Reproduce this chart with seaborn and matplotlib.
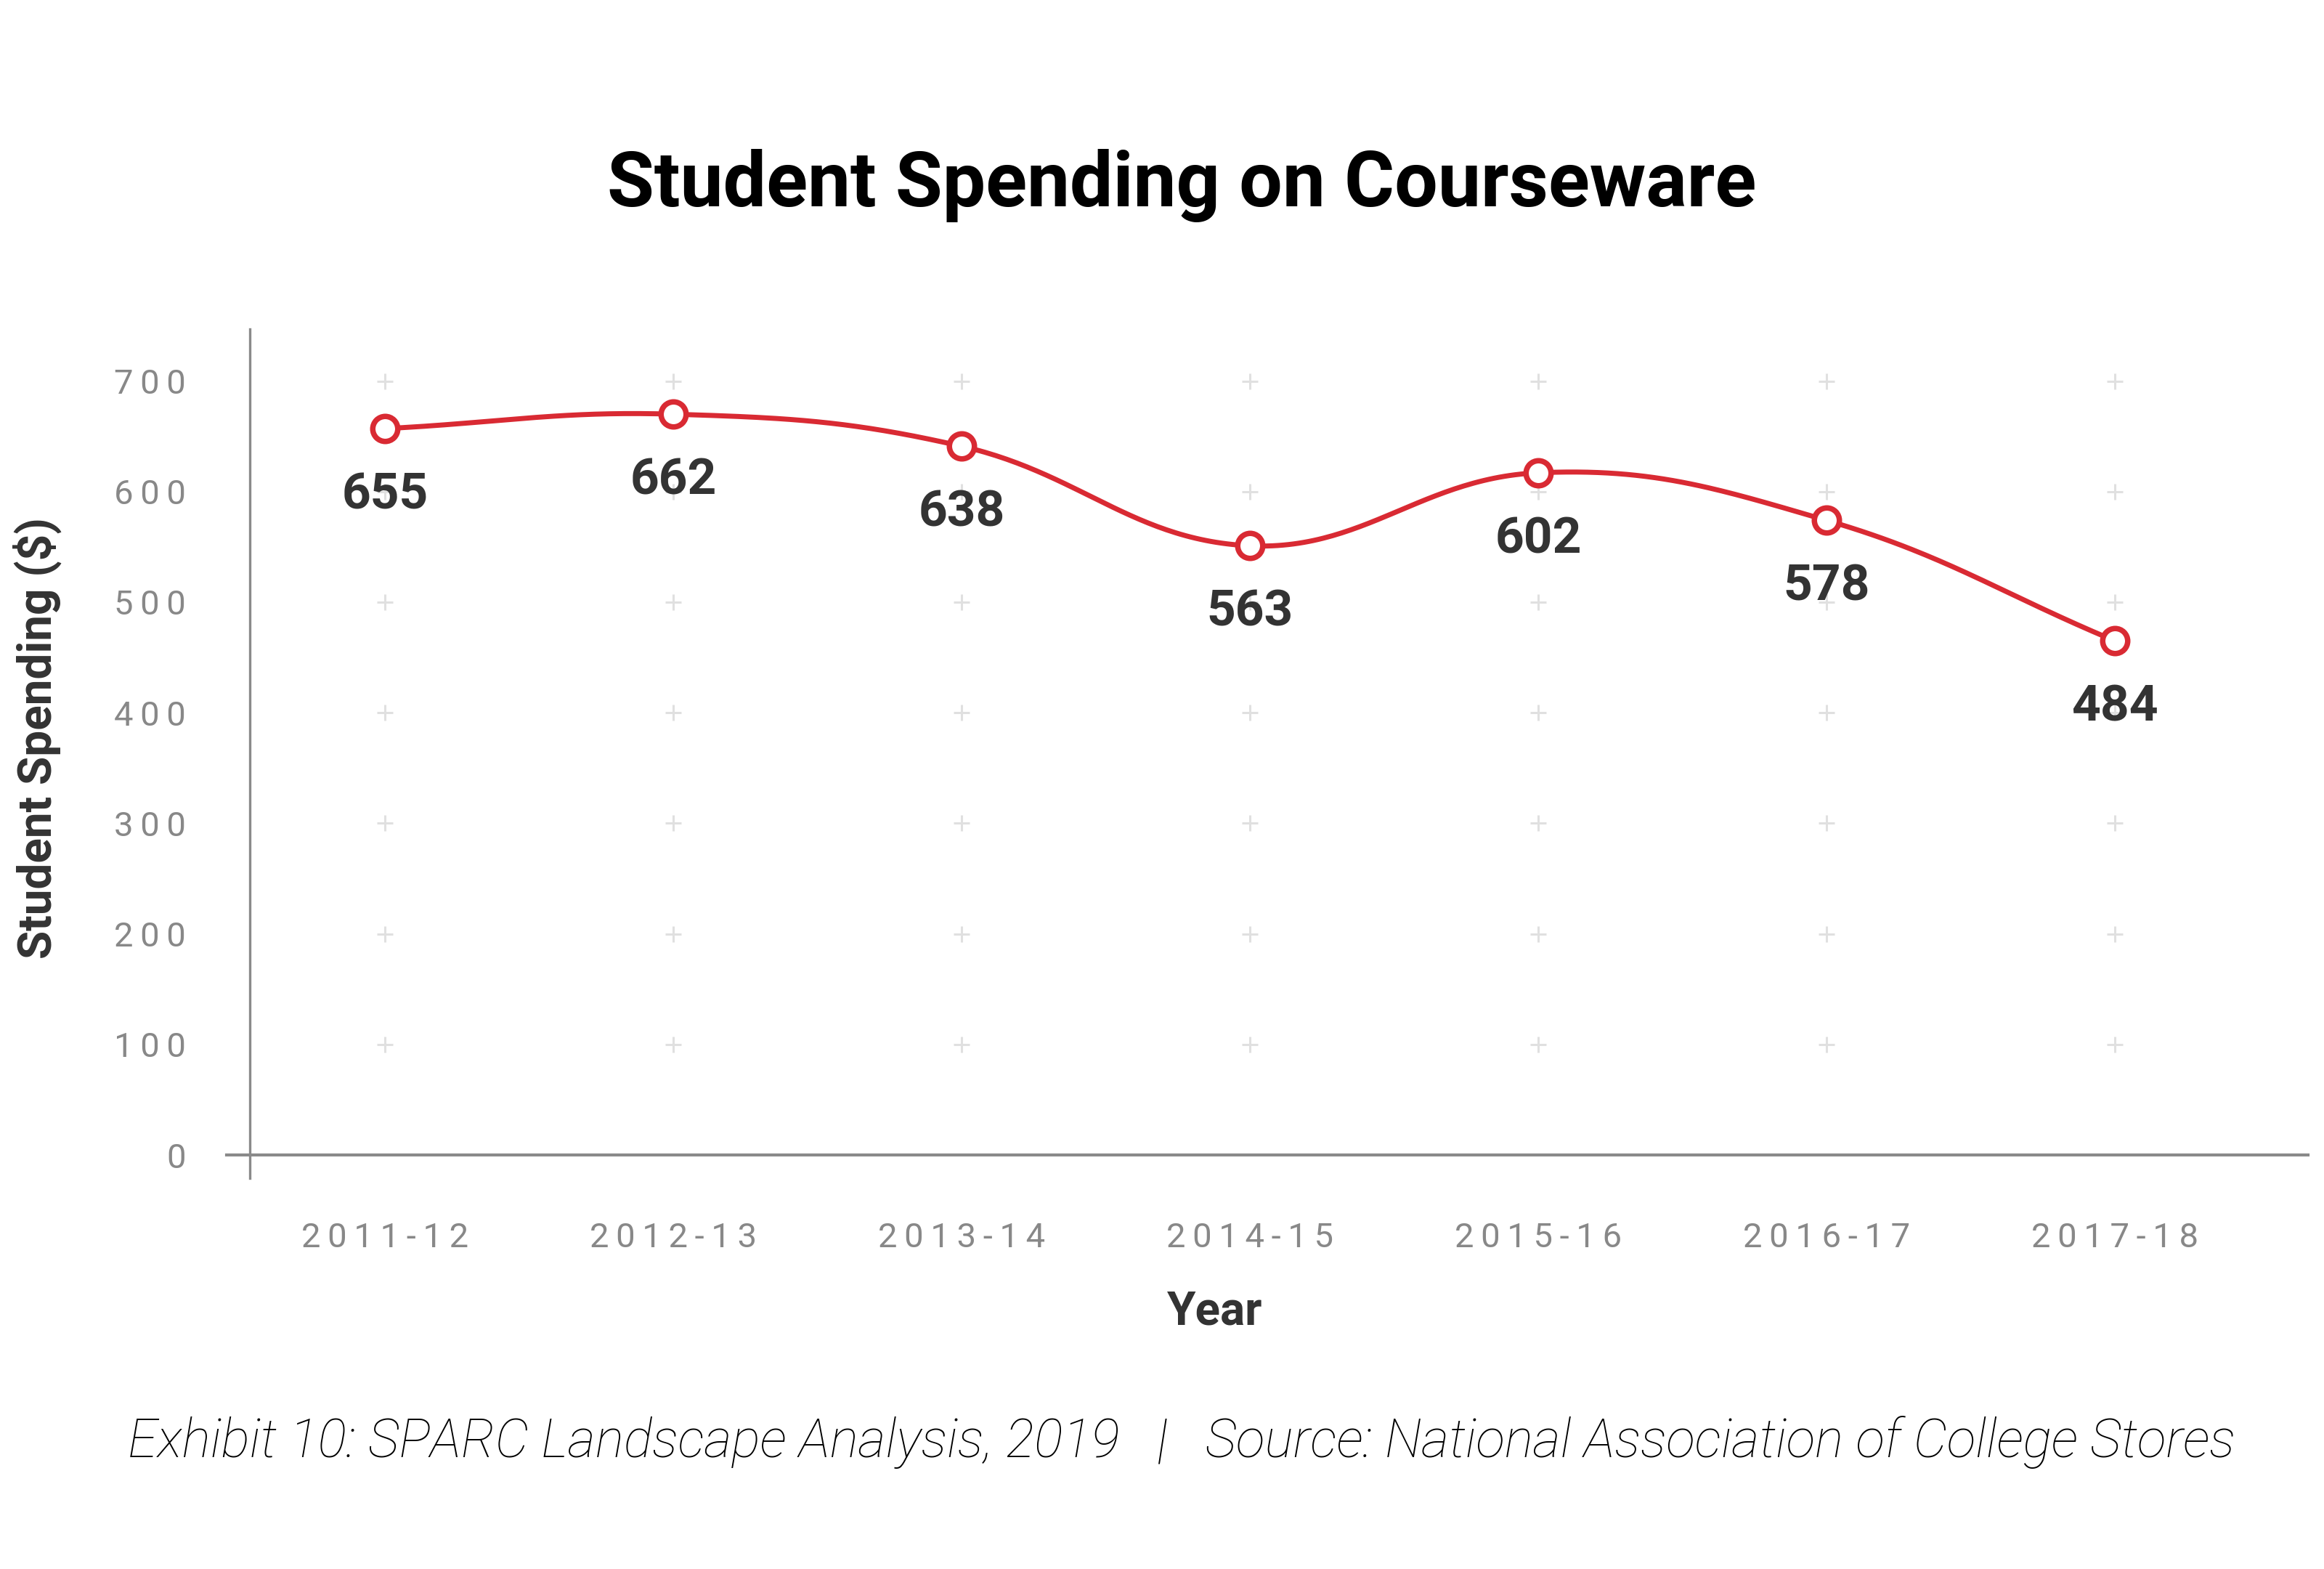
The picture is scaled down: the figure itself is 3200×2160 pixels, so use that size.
import numpy as np
import pandas as pd
import matplotlib
matplotlib.use("Agg")
import matplotlib.pyplot as plt
import seaborn as sns

# ---- data ----
years = ["2011-12", "2012-13", "2013-14", "2014-15", "2015-16", "2016-17", "2017-18"]
point_values = [657, 670, 641, 551, 617, 574, 465]      # where the markers sit
label_values = [655, 662, 638, 563, 602, 578, 484]      # printed data labels
y_ticks = [0, 100, 200, 300, 400, 500, 600, 700]

RED = "#d92a33"
THIN = "\u2009"

sns.set_theme(style="white")
plt.rcParams["font.family"] = ["Roboto", "DejaVu Sans"]

DPI = 200
fig = plt.figure(figsize=(16, 10.8), dpi=DPI)
ax = fig.add_axes([312 / 3200, 1 - 1622 / 2160, (3178 - 312) / 3200, (1622 - 453) / 2160])
ax.set_xlim(-0.55, 6.67)
ax.set_ylim(-21, 747)

# smooth curve (Chart.js-like bezier, tension 0.4), computed in pixel-like space
xs = np.arange(len(years), dtype=float)
ys = np.array(point_values, dtype=float)
sx, sy = 397.0, 1.528
P = np.column_stack([xs * sx, ys * sy])
t = 0.4
n = len(P)
cp_prev = np.zeros_like(P)
cp_next = np.zeros_like(P)
for i in range(n):
    prev = P[i - 1] if i > 0 else P[i]
    nxt = P[i + 1] if i < n - 1 else P[i]
    d01 = np.linalg.norm(P[i] - prev)
    d12 = np.linalg.norm(nxt - P[i])
    s = d01 + d12
    s01 = d01 / s if s else 0
    s12 = d12 / s if s else 0
    cp_prev[i] = P[i] - t * s01 * (nxt - prev)
    cp_next[i] = P[i] + t * s12 * (nxt - prev)
curve = []
u = np.linspace(0, 1, 60)[:, None]
for i in range(n - 1):
    p0, p1, p2, p3 = P[i], cp_next[i], cp_prev[i + 1], P[i + 1]
    seg = (1 - u) ** 3 * p0 + 3 * (1 - u) ** 2 * u * p1 + 3 * (1 - u) * u ** 2 * p2 + u ** 3 * p3
    curve.append(seg if i == 0 else seg[1:])
curve = np.vstack(curve)
curve_df = pd.DataFrame({"x": curve[:, 0] / sx, "y": curve[:, 1] / sy})

# background plus-sign grid
gx, gy = np.meshgrid(xs, y_ticks[1:])
ax.scatter(gx.ravel(), gy.ravel(), marker="+", s=60, color="#e0e0e0", linewidths=1.1, zorder=1)

sns.lineplot(data=curve_df, x="x", y="y", sort=False, color=RED, linewidth=2.5, ax=ax, zorder=3)
pts_df = pd.DataFrame({"x": xs, "y": ys})
sns.scatterplot(data=pts_df, x="x", y="y", s=154, facecolor="white", edgecolor=RED,
                linewidth=2.7, ax=ax, zorder=4)

for xi, yi, lab in zip(xs, ys, label_values):
    ax.annotate(str(lab), (xi, yi), xytext=(0, -33), textcoords="offset points",
                ha="center", va="center", fontsize=25, fontweight="bold", color="#333333")

# axes styling
for side in ["top", "right"]:
    ax.spines[side].set_visible(False)
ax.spines["left"].set_position(("data", -0.47))
ax.spines["bottom"].set_position(("data", 0))
ax.spines["left"].set_color("#8a8a8a")
ax.spines["bottom"].set_color("#8a8a8a")
ax.spines["left"].set_linewidth(1.2)
ax.spines["bottom"].set_linewidth(1.5)

ax.set_yticks(y_ticks)
ax.set_yticklabels([THIN.join(str(v)) for v in y_ticks])
ax.set_xticks(xs)
ax.set_xticklabels([THIN.join(y) for y in years])
ax.tick_params(axis="y", direction="inout", length=7.2, width=0.8, color="#aaaaaa",
               pad=28, labelsize=17, labelcolor="#888888")
ax.tick_params(axis="x", direction="inout", length=7.2, width=0.8, color="#aaaaaa",
               pad=29.5, labelsize=17, labelcolor="#888888")
ax.set_xlabel("")
ax.set_ylabel("")

fig.text(1627 / 3200, 1 - 256 / 2160, "Student Spending on Courseware", ha="center", va="center",
         fontsize=38, fontweight="bold", color="#000000")
fig.text(51 / 3200, 1 - 1016 / 2160, "Student Spending ($)", ha="center", va="center",
         rotation=90, fontsize=23, fontweight="bold", color="#333333")
fig.text(1673 / 3200, 1 - 1806 / 2160, "Year", ha="center", va="center",
         fontsize=23, fontweight="bold", color="#333333")
fig.text(1627 / 3200, 1 - 1986 / 2160,
         "Exhibit 10: SPARC Landscape Analysis, 2019   |   Source: National Association of College Stores",
         ha="center", va="center", fontsize=26.5, fontstyle="italic", fontweight="light", color="#000000")

fig.savefig("out.png", dpi=DPI, facecolor="white")
